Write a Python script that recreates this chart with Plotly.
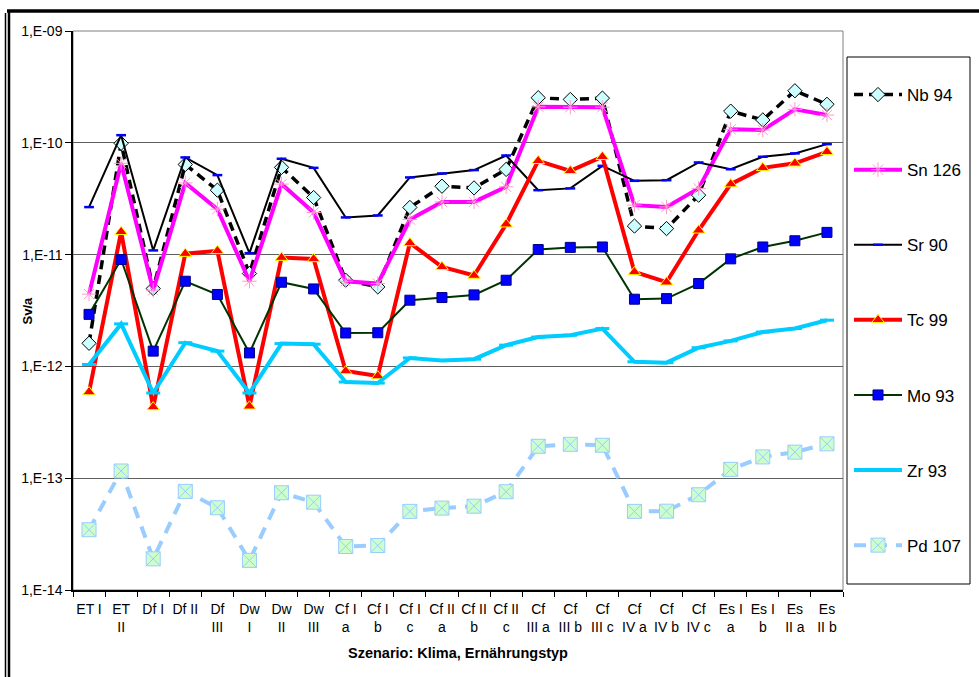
import plotly.graph_objects as go

categories = ["ET I", "ET II", "Df I", "Df II", "Df III", "Dw I", "Dw II", "Dw III",
              "Cf I a", "Cf I b", "Cf I c", "Cf II a", "Cf II b", "Cf II c",
              "Cf III a", "Cf III b", "Cf III c", "Cf IV a", "Cf IV b", "Cf IV c",
              "Es I a", "Es I b", "Es II a", "Es II b"]
tick_labels = ["ET I", "ET<br>II", "Df I", "Df II", "Df<br>III", "Dw<br>I", "Dw<br>II", "Dw<br>III",
               "Cf I<br>a", "Cf I<br>b", "Cf I<br>c", "Cf II<br>a", "Cf II<br>b", "Cf II<br>c",
               "Cf<br>III a", "Cf<br>III b", "Cf<br>III c", "Cf<br>IV a", "Cf<br>IV b", "Cf<br>IV c",
               "Es I<br>a", "Es I<br>b", "Es<br>II a", "Es<br>II b"]

nb94 = [1.61e-12, 9.9e-11, 4.97e-12, 6.4e-11, 3.77e-11, 6.77e-12, 6.03e-11, 3.24e-11,
        5.9e-12, 5.14e-12, 2.64e-11, 4.09e-11, 3.95e-11, 5.78e-11,
        2.53e-10, 2.44e-10, 2.51e-10, 1.8e-11, 1.71e-11, 3.4e-11,
        1.92e-10, 1.6e-10, 2.92e-10, 2.21e-10]
sn126 = [4.43e-12, 6.55e-11, 4.8e-12, 4.38e-11, 2.55e-11, 5.78e-12, 4.27e-11, 2.38e-11,
         5.78e-12, 5.51e-12, 2.06e-11, 2.96e-11, 2.96e-11, 4.04e-11,
         2.1e-10, 2.08e-10, 2.08e-10, 2.77e-11, 2.67e-11, 3.91e-11,
         1.32e-10, 1.3e-10, 1.99e-10, 1.77e-10]
sr90 = [2.66e-11, 1.17e-10, 1.09e-11, 7.4e-11, 5.14e-11, 1.03e-11, 7.2e-11, 5.97e-11,
        2.15e-11, 2.24e-11, 4.9e-11, 5.32e-11, 5.7e-11, 7.7e-11,
        3.77e-11, 3.91e-11, 6.22e-11, 4.57e-11, 4.63e-11, 6.67e-11,
        5.8e-11, 7.5e-11, 8.04e-11, 9.73e-11]
tc99 = [5.9e-13, 1.6e-11, 4.33e-13, 1.02e-11, 1.08e-11, 4.4e-13, 9.4e-12, 9.15e-12,
        9.1e-13, 8.2e-13, 1.27e-11, 7.77e-12, 6.5e-12, 1.87e-11,
        6.9e-11, 5.61e-11, 7.5e-11, 7.0e-12, 5.66e-12, 1.65e-11,
        4.27e-11, 5.97e-11, 6.55e-11, 8.3e-11]
mo93 = [2.92e-12, 9.04e-12, 1.37e-12, 5.78e-12, 4.4e-12, 1.32e-12, 5.66e-12, 4.93e-12,
        1.99e-12, 2.0e-12, 3.91e-12, 4.13e-12, 4.36e-12, 5.9e-12,
        1.11e-11, 1.16e-11, 1.17e-11, 3.99e-12, 4.04e-12, 5.51e-12,
        9.16e-12, 1.17e-11, 1.33e-11, 1.58e-11]
zr93 = [1.04e-12, 2.4e-12, 5.78e-13, 1.63e-12, 1.37e-12, 5.78e-13, 1.6e-12, 1.58e-12,
        7.25e-13, 7.1e-13, 1.19e-12, 1.13e-12, 1.16e-12, 1.55e-12,
        1.83e-12, 1.9e-12, 2.18e-12, 1.1e-12, 1.08e-12, 1.47e-12,
        1.69e-12, 2.03e-12, 2.18e-12, 2.59e-12]
pd107 = [3.46e-14, 1.16e-13, 1.9e-14, 7.62e-14, 5.44e-14, 1.84e-14, 7.41e-14, 6.1e-14,
         2.45e-14, 2.5e-14, 5.05e-14, 5.4e-14, 5.62e-14, 7.57e-14,
         1.93e-13, 2.01e-13, 1.97e-13, 5.05e-14, 5.07e-14, 7.11e-14,
         1.2e-13, 1.55e-13, 1.71e-13, 2.03e-13]

y_tickvals = [1e-14, 1e-13, 1e-12, 1e-11, 1e-10, 1e-9]
y_ticktext = ["1,E-14", "1,E-13", "1,E-12", "1,E-11", "1,E-10", "1,E-09"]

FONT = "Liberation Sans, Arial, sans-serif"

fig = go.Figure()

def add(name, y, line, marker):
    fig.add_trace(go.Scatter(x=categories, y=y, name=name, mode="lines+markers",
                             line=line, marker=marker, legendgroup=name))

add("Nb 94", nb94, dict(color="black", width=3.5, dash="9px,6px"),
    dict(symbol="diamond", size=11, color="#CCFFFF", line=dict(color="black", width=1)))
add("Sn 126", sn126, dict(color="#FF00FF", width=4),
    dict(symbol="asterisk-open", size=12, color="#FF99CC", line=dict(color="#FF99CC", width=1)))
add("Sr 90", sr90, dict(color="black", width=2),
    dict(symbol="line-ew", size=7, color="#0000FF", line=dict(color="#0000FF", width=2.5)))
add("Tc 99", tc99, dict(color="#FF0000", width=4),
    dict(symbol="triangle-up", size=11, color="#FF0000", line=dict(color="#FFFF00", width=1)))
add("Mo 93", mo93, dict(color="#003300", width=2),
    dict(symbol="square", size=10, color="#0000FF", line=dict(color="#000080", width=1)))
add("Zr 93", zr93, dict(color="#00CCFF", width=4),
    dict(symbol="line-ew", size=10, color="#00CCFF", line=dict(color="#00CCFF", width=3)))
add("Pd 107", pd107, dict(color="#99CCFF", width=4, dash="12px,9px"),
    dict(symbol="square-x", size=14, color="#CCFFCC", line=dict(color="#99CCFF", width=1)))

W, H = 979, 677
L, R, T, B = 73, 843, 31, 590

def px(x):
    return (x - L) / (R - L)

def py(y):
    return (B - y) / (B - T)

shapes = [
    dict(type="rect", xref="paper", yref="paper", x0=0, x1=1, y0=0, y1=1,
         line=dict(color="#808080", width=1), layer="below"),
    dict(type="rect", xref="paper", yref="paper", x0=px(847), x1=px(970), y0=py(584), y1=py(57),
         line=dict(color="black", width=1)),
    dict(type="line", xref="paper", yref="paper", x0=px(7), x1=px(979), y0=py(11), y1=py(11),
         line=dict(color="black", width=3.5)),
    dict(type="line", xref="paper", yref="paper", x0=px(5.5), x1=px(5.5), y0=py(13), y1=py(677),
         line=dict(color="black", width=1.5)),
    dict(type="line", xref="paper", yref="paper", x0=px(9), x1=px(9), y0=py(10), y1=py(677),
         line=dict(color="black", width=2.5)),
]

fig.update_layout(
    width=W, height=H,
    margin=dict(l=L, r=W - R, t=T, b=H - B, autoexpand=False),
    paper_bgcolor="white", plot_bgcolor="white",
    font=dict(family=FONT, size=14, color="black"),
    showlegend=True,
    legend=dict(x=px(849), xanchor="left", y=py(77), yanchor="top",
                font=dict(size=17, family=FONT), itemwidth=48,
                traceorder="grouped", tracegroupgap=50,
                bgcolor="rgba(0,0,0,0)", borderwidth=0),
    shapes=shapes,
    annotations=[dict(text="<b>Sv/a</b>", xref="paper", yref="paper", x=px(27), y=0.5,
                      textangle=-90, showarrow=False, font=dict(size=13, family=FONT),
                      xanchor="center", yanchor="middle")],
    xaxis=dict(type="category", tickmode="array", tickvals=categories, ticktext=tick_labels,
               range=[-0.5, len(categories) - 0.5],
               tickson="boundaries", ticks="outside", ticklen=5, tickcolor="black",
               tickangle=0, showline=True, linecolor="black", linewidth=1.5,
               ticklabelstandoff=5,
               showgrid=False, tickfont=dict(size=14), automargin=False,
               title=dict(text="<b>Szenario: Klima, Ernährungstyp</b>",
                          font=dict(size=14.5), standoff=14)),
    yaxis=dict(type="log", range=[-14, -9], tickmode="array", tickvals=y_tickvals,
               ticktext=y_ticktext, ticks="outside", ticklen=6, tickcolor="black",
               showline=True, linecolor="black", linewidth=1.5, automargin=False,
               showgrid=True, gridcolor="#606060", gridwidth=1,
               tickfont=dict(size=14), zeroline=False),
)

fig.write_html("out.html", config={"displayModeBar": False},
               post_script="document.body.style.margin='0px';")
